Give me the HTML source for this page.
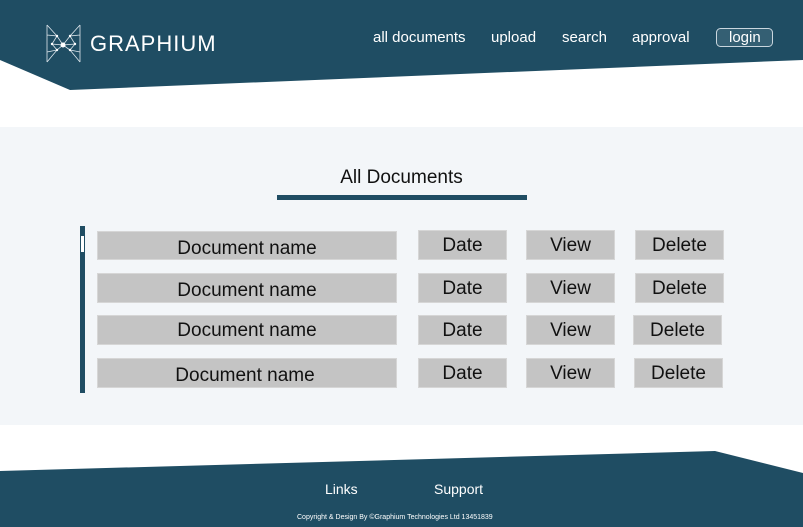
<!DOCTYPE html>
<html><head><meta charset="utf-8"><style>
body{margin:0;width:803px;height:527px;position:relative;overflow:hidden;background:#fff;font-family:"Liberation Sans",sans-serif}
.a{position:absolute}
.b{position:absolute;background:#c4c4c4;border:1px solid #d6d6d6;box-sizing:border-box;text-align:center;font-size:19px;color:#111;line-height:30px}
.n{position:absolute;color:#fff;font-size:15px;top:29px}
</style></head><body>
<svg class="a" style="left:0;top:0" width="803" height="527">
<polygon points="0,0 803,0 803,60 70,90 0,60" fill="#1f4d63"/>
<rect x="0" y="127" width="803" height="298" fill="#f3f6f9"/>
<polygon points="0,471 715,451 803,473 803,527 0,527" fill="#1f4d63"/>
<rect x="277" y="195" width="250" height="5" fill="#1f4d63"/>
<rect x="80" y="226" width="5" height="167" fill="#1f4d63"/>
<rect x="81" y="236" width="3" height="16" fill="#fff"/>
<g stroke="#dfe8ee" stroke-width="0.8" fill="none">
<path d="M47,25 L57,36 L63,45 L70,36 L80,25 M47,25 L47,62 M80,25 L80,62 M47,62 L57,50 L63,45 L70,50 L80,62 M47,35 L57,36 L52,44 L63,45 L75,44 L70,36 L80,35 M52,44 L57,50 M75,44 L70,50 M47,52 L57,50 M80,52 L70,50"/>
</g>
<g fill="#fff"><circle cx="63" cy="45" r="2.5"/><circle cx="57" cy="36" r="1.2"/><circle cx="70" cy="36" r="1.2"/><circle cx="52" cy="44" r="1.2"/><circle cx="75" cy="44" r="1.2"/><circle cx="57" cy="50" r="1.2"/><circle cx="70" cy="50" r="1.2"/></g>
<rect x="716.5" y="28.5" width="56" height="18" rx="4" fill="#345f73" stroke="#c9d6de"/>
</svg>
<div class="a" style="left:90px;top:31px;color:#fff;font-size:22px;letter-spacing:1px">GRAPHIUM</div>
<div class="n" style="left:373px">all documents</div>
<div class="n" style="left:491px">upload</div>
<div class="n" style="left:562px">search</div>
<div class="n" style="left:632px">approval</div>
<div class="n" style="left:729px">login</div>
<div class="a" style="left:0;width:803px;top:167px;text-align:center;font-size:19px;color:#111">All Documents</div>

<div class="b" style="left:97px;top:231px;width:300px;height:29px;line-height:34px">Document name</div>
<div class="b" style="left:418px;top:230px;width:89px;height:30px">Date</div>
<div class="b" style="left:526px;top:230px;width:89px;height:30px">View</div>
<div class="b" style="left:635px;top:230px;width:89px;height:30px">Delete</div>

<div class="b" style="left:97px;top:273px;width:300px;height:30px;line-height:34px">Document name</div>
<div class="b" style="left:418px;top:273px;width:89px;height:30px">Date</div>
<div class="b" style="left:526px;top:273px;width:89px;height:30px">View</div>
<div class="b" style="left:635px;top:273px;width:89px;height:30px">Delete</div>

<div class="b" style="left:97px;top:315px;width:300px;height:30px">Document name</div>
<div class="b" style="left:418px;top:315px;width:89px;height:30px">Date</div>
<div class="b" style="left:526px;top:315px;width:89px;height:30px">View</div>
<div class="b" style="left:633px;top:315px;width:89px;height:30px">Delete</div>

<div class="b" style="left:97px;top:358px;width:300px;height:30px;line-height:34px;text-indent:-4px">Document name</div>
<div class="b" style="left:418px;top:358px;width:89px;height:30px">Date</div>
<div class="b" style="left:526px;top:358px;width:89px;height:30px">View</div>
<div class="b" style="left:634px;top:358px;width:89px;height:30px">Delete</div>

<div class="a" style="left:325px;top:481px;color:#fff;font-size:14px">Links</div>
<div class="a" style="left:434px;top:481px;color:#fff;font-size:14px">Support</div>
<div class="a" style="left:297px;top:514px;color:#fff;font-size:7px">Copyright &amp; Design By ©Graphium Technologies Ltd 13451839</div>
</body></html>
